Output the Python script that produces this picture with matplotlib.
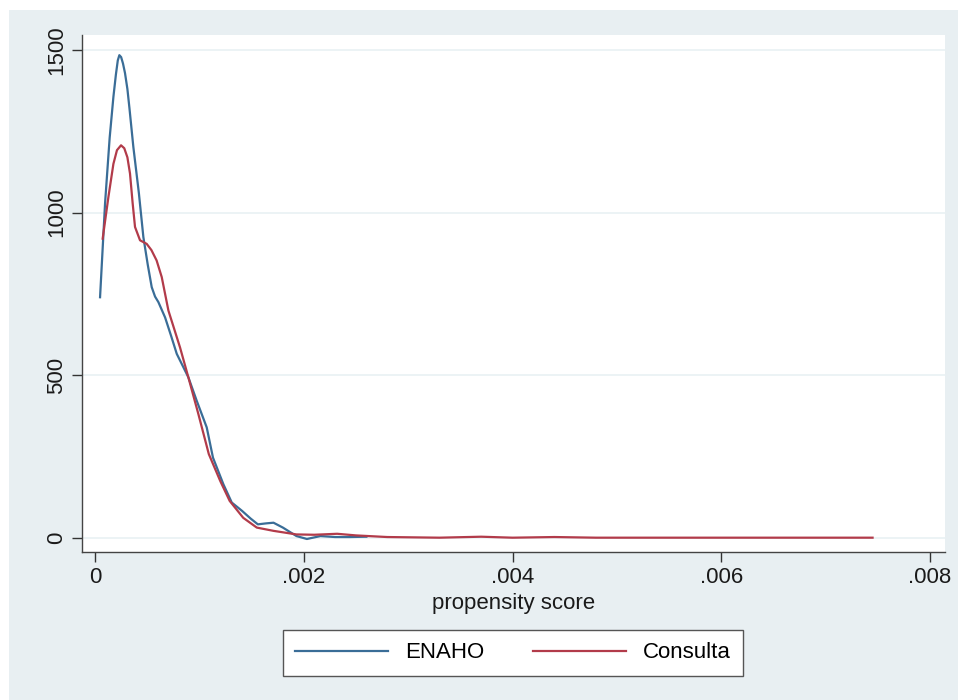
import matplotlib
matplotlib.use("Agg")
import matplotlib.pyplot as plt
import matplotlib.ticker as ticker
from matplotlib.patches import Rectangle

# kernel density curves
enaho_x = [0.000048, 0.000096, 0.000140, 0.000176, 0.000200, 0.000218, 0.000233, 0.000250,
           0.000268, 0.000287, 0.000310, 0.000330, 0.000367, 0.000420, 0.000463, 0.000505,
           0.000543, 0.000575, 0.000607, 0.000671, 0.000730, 0.000783, 0.000894, 0.000974,
           0.001070, 0.001130, 0.001230, 0.001310, 0.001410, 0.001490, 0.001560, 0.001640,
           0.001710, 0.001800, 0.001930, 0.002030, 0.002160, 0.002300, 0.002440, 0.002600]
enaho_y = [740, 1029, 1230, 1356, 1425, 1468, 1484, 1478,
           1458, 1429, 1380, 1320, 1202, 1060, 925, 840,
           771, 742, 725, 678, 620, 566, 494, 422,
           340, 247, 165, 109, 83, 60, 42, 45,
           47, 32, 6, -3, 6, 3, 3, 4]

consulta_x = [0.000073, 0.000128, 0.000176, 0.000210, 0.000249, 0.000280, 0.000310, 0.000335,
              0.000360, 0.000383, 0.000431, 0.000495, 0.000540, 0.000590, 0.000639, 0.000703,
              0.000814, 0.000894, 0.000990, 0.001090, 0.001200, 0.001290, 0.001420, 0.001550,
              0.001710, 0.001930, 0.002100, 0.002320, 0.002500, 0.002800, 0.003300, 0.003700,
              0.004000, 0.004400, 0.004800, 0.005500, 0.006500, 0.007450]
consulta_y = [920, 1048, 1150, 1192, 1207, 1198, 1170, 1120,
              1030, 956, 915, 904, 885, 853, 802, 699,
              586, 494, 381, 258, 175, 114, 62, 32,
              22, 11, 10, 13, 8, 3, 1, 4,
              1, 3, 1, 1, 1, 1]

x_ticks = [0, 0.002, 0.004, 0.006, 0.008]
x_tick_labels = ["0", ".002", ".004", ".006", ".008"]
y_ticks = [0, 500, 1000, 1500]

plt.rcParams['font.family'] = ['Liberation Sans', 'DejaVu Sans']

fig = plt.figure(figsize=(9.58, 7.0), dpi=100, facecolor='white')
# Stata-like light blue graph region
fig.patches.append(Rectangle((9 / 958, 0), 1, 690 / 700, transform=fig.transFigure,
                             facecolor='#e8eff2', edgecolor='none', zorder=-10))

ax = fig.add_axes([82 / 958, 148 / 700, 863 / 958, 517 / 700])
ax.set_zorder(1)
ax.set_facecolor('white')

ax.plot(enaho_x, enaho_y, color='#3a6d97', linewidth=1.6, label='ENAHO')
ax.plot(consulta_x, consulta_y, color='#b23b4a', linewidth=1.6, label='Consulta')

ax.set_xlim(-0.000125, 0.008144)
ax.set_ylim(-43, 1546)

ax.set_xticks(x_ticks)
ax.set_xticklabels(x_tick_labels)
ax.set_yticks(y_ticks)
ax.set_yticklabels([str(v) for v in y_ticks], rotation=90, va='center')
ax.tick_params(axis='both', labelsize=16, length=7, width=1, color='#333333', labelcolor='#1a1a1a')

ax.grid(axis='y', color='#e9f1f3', linewidth=1.2)
ax.set_axisbelow(True)

for side in ['top', 'right']:
    ax.spines[side].set_visible(False)
for side in ['left', 'bottom']:
    ax.spines[side].set_color('#444444')
    ax.spines[side].set_linewidth(1.0)

ax.set_xlabel('propensity score', fontsize=16, color='#1a1a1a', labelpad=4)

leg = fig.legend(loc='center', bbox_to_anchor=(513 / 958, 1 - 653 / 700), ncol=2,
                 fontsize=16, handlelength=4.2, columnspacing=2.2, handletextpad=0.75,
                 fancybox=False, framealpha=1, edgecolor='#555555', borderpad=0.55)
leg.get_frame().set_linewidth(1.0)

plt.savefig('out.png', dpi=100, facecolor=fig.get_facecolor())
